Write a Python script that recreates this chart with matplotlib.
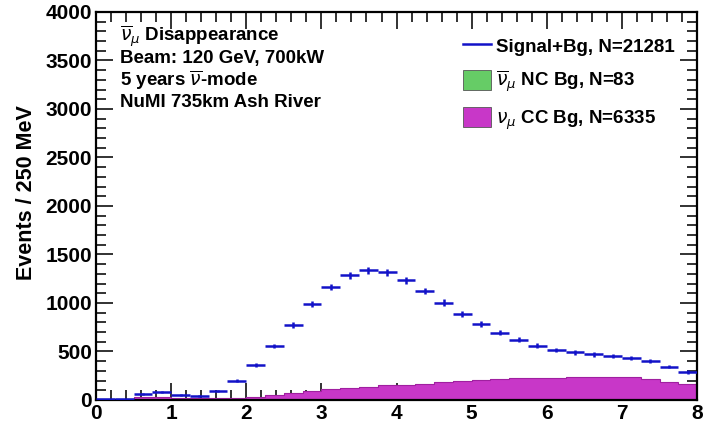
import numpy as np
import matplotlib
matplotlib.use("Agg")
import matplotlib.pyplot as plt
from matplotlib.ticker import MultipleLocator
from matplotlib.lines import Line2D
from matplotlib.patches import Patch

plt.rcParams["font.family"] = ["Liberation Sans", "DejaVu Sans"]
plt.rcParams["mathtext.fontset"] = "dejavusans"

# reconstructed energy bins, 250 MeV wide, 0-8 GeV
edges = np.arange(0, 8.001, 0.25)

signal_bg = [10, 10, 60, 80, 50, 40, 95, 200, 360, 555, 775, 990, 1165, 1285, 1335, 1315,
             1235, 1125, 1005, 885, 785, 695, 620, 560, 515, 490, 470, 455, 435, 400, 345, 290]
numu_cc = [0, 0, 30, 30, 25, 20, 20, 20, 33, 50, 75, 95, 110, 125, 137, 150,
           158, 170, 190, 200, 210, 220, 225, 228, 228, 232, 235, 235, 235, 220, 190, 170]
nubar_nc = [0, 0, 1, 1, 1, 1, 2, 2, 2, 3, 3, 3, 3, 3, 3, 3,
            3, 3, 3, 3, 3, 3, 3, 3, 3, 3, 3, 3, 3, 3, 2, 2]

BLUE = "#1212c8"
MAGENTA = "#c837c8"
GREEN = "#66cc66"

fig = plt.figure(figsize=(7.08, 4.21), dpi=100)
ax = fig.add_axes([0.1356, 0.0499, 0.849, 0.9216])

centers = 0.5 * (edges[:-1] + edges[1:])
# NC background first (it is tiny and hides under CC), then CC
ax.stairs(nubar_nc, edges, fill=True, color=GREEN, zorder=1)
ax.stairs(numu_cc, edges, fill=True, color=MAGENTA, zorder=2)
ax.stairs(numu_cc, edges, color="#a020a0", lw=0.8, zorder=2)

sig = np.array(signal_bg, dtype=float)
ax.errorbar(centers, sig, xerr=0.125, yerr=np.sqrt(sig), fmt="none",
            ecolor=BLUE, elinewidth=1.8, capsize=0, zorder=3)

ax.set_xlim(0, 8)
ax.set_ylim(0, 4000)
ax.xaxis.set_major_locator(MultipleLocator(1))
ax.xaxis.set_minor_locator(MultipleLocator(0.2))
ax.yaxis.set_major_locator(MultipleLocator(500))
ax.yaxis.set_minor_locator(MultipleLocator(100))
ax.tick_params(which="both", direction="in", top=True, right=True, width=1.3, color="#222222")
ax.tick_params(which="major", length=12, labelsize=15, pad=3)
ax.tick_params(which="minor", length=7)
for lab in ax.get_xticklabels() + ax.get_yticklabels():
    lab.set_fontweight("bold")
for s in ax.spines.values():
    s.set_linewidth(1.6)

ax.set_ylabel("Events / 250 MeV", fontsize=15.5, fontweight="bold")
ax.yaxis.set_label_coords(-0.098, 0.535)

info = [r"$\overline{\nu}_{\mu}$ Disappearance",
        "Beam: 120 GeV, 700kW",
        r"5 years $\overline{\nu}$-mode",
        "NuMI 735km Ash River"]
for i, t in enumerate(info):
    ax.text(0.040, 0.937 - i * 0.057, t, transform=ax.transAxes, fontsize=13.5,
            fontweight="bold", va="center", ha="left")

handles = [Line2D([], [], color=BLUE, lw=1.8),
           Patch(facecolor=GREEN, edgecolor="#555555", lw=0.6),
           Patch(facecolor=MAGENTA, edgecolor="#555555", lw=0.6)]
labels = ["Signal+Bg, N=21281",
          r"$\overline{\nu}_{\mu}$ NC Bg, N=83",
          r"$\nu_{\mu}$ CC Bg, N=6335"]
leg = ax.legend(handles, labels, loc="upper right", bbox_to_anchor=(0.963, 0.939),
                frameon=False, prop={"size": 13.5, "weight": "bold"},
                borderaxespad=0, borderpad=0,
                handlelength=1.5, handleheight=1.33, handletextpad=0.27, labelspacing=0.64)

fig.savefig("out.png", dpi=100)
